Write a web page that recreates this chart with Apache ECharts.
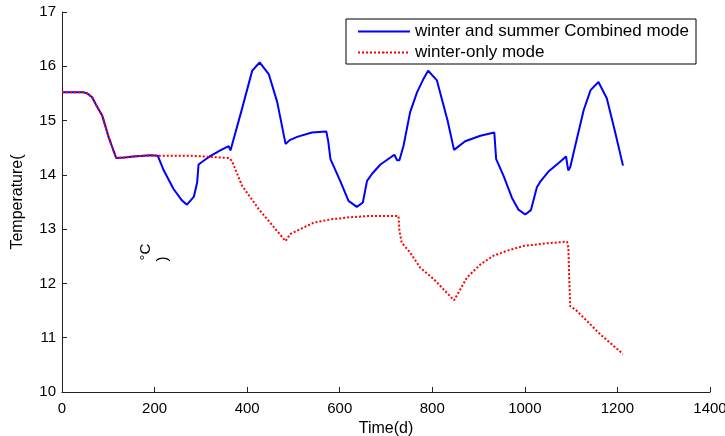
<!DOCTYPE html>
<html>
<head>
<meta charset="utf-8">
<script src="https://cdn.jsdelivr.net/npm/echarts@6/dist/echarts.min.js"></script>
<style>
html, body { margin: 0; padding: 0; background: #fff; }
#chart { width: 725px; height: 436px; }
</style>
</head>
<body>
<div id="chart"></div>
<script>
// combined mode (winter and summer)
var combinedTime = [0, 47, 55, 65, 75, 87, 101, 117, 135, 155, 191, 207,
	220, 241, 259, 270, 285, 292, 295, 306, 321, 342, 360, 364, 368, 389, 411, 427, 447, 465,
	483, 492, 508, 540, 571, 575, 580, 601, 619, 637, 650, 659, 670, 688, 718, 724, 729,
	738, 752, 767, 780, 791, 810, 833, 847, 871, 904, 934, 938, 954, 972, 986, 1001, 1013,
	1026, 1033, 1051, 1073, 1089, 1092, 1094, 1098, 1109, 1127, 1142, 1159, 1177, 1195, 1212];
var combinedTemp = [15.52, 15.52, 15.5, 15.43, 15.27, 15.09, 14.69, 14.31, 14.32, 14.34, 14.36, 14.35,
	14.08, 13.74, 13.53, 13.45, 13.6, 13.86, 14.19, 14.26, 14.35, 14.45, 14.53, 14.45, 14.47, 15.22, 15.92, 16.07, 15.85, 15.34,
	14.57, 14.64, 14.7, 14.78, 14.8, 14.63, 14.29, 13.89, 13.52, 13.41, 13.49, 13.89, 14.02, 14.19, 14.37, 14.27, 14.27,
	14.54, 15.15, 15.52, 15.75, 15.92, 15.74, 15.0, 14.46, 14.62, 14.72, 14.78, 14.29, 13.98, 13.58, 13.36, 13.27, 13.35,
	13.77, 13.87, 14.06, 14.22, 14.34, 14.17, 14.08, 14.14, 14.54, 15.19, 15.56, 15.71, 15.41, 14.79, 14.17];

// winter-only mode
var winterTime = [0, 47, 55, 65, 75, 87, 101, 117, 135, 155, 191, 207,
	285, 360, 367, 389, 425, 483, 493, 544, 580, 623, 659, 727, 729, 734, 752, 774, 803,
	847, 875, 904, 932, 961, 997, 1048, 1091, 1094, 1096, 1098, 1109, 1134, 1163, 1212];
var winterTemp = [15.52, 15.52, 15.5, 15.43, 15.27, 15.09, 14.69, 14.31, 14.32, 14.34, 14.36, 14.35,
	14.35, 14.31, 14.26, 13.8, 13.37, 12.78, 12.91, 13.12, 13.18, 13.22, 13.24, 13.24, 12.97, 12.75, 12.57, 12.29, 12.08,
	11.69, 12.11, 12.35, 12.51, 12.6, 12.69, 12.74, 12.77, 12.66, 12.05, 11.58, 11.52, 11.31, 11.06, 10.7];

var seriesNames = ['winter and summer Combined mode', 'winter-only mode'];

function pairs(xs, ys) {
	var out = [];
	for (var i = 0; i < xs.length; i++) {
		out.push([xs[i], ys[i]]);
	}
	return out;
}

var chart = echarts.init(document.getElementById('chart'));
var font = 'Liberation Sans, Arial, sans-serif';

var option = {
	animation : false,
	grid : {
		left : 62,
		right : 15,
		top : 12,
		bottom : 44,
		containLabel : false,
		outerBoundsMode : 'none'
	},
	legend : {
		orient : 'vertical',
		left : 346,
		top : 19,
		padding : [4, 7, 3, 11],
		itemGap : 4,
		itemWidth : 52,
		itemHeight : 2,
		borderColor : '#000',
		borderWidth : 1,
		backgroundColor : '#fff',
		textStyle : {
			fontFamily : font,
			fontSize : 17,
			color : '#000'
		},
		data : seriesNames
	},
	xAxis : {
		type : 'value',
		min : 0,
		max : 1400,
		interval : 200,
		name : 'Time(d)',
		nameLocation : 'middle',
		nameGap : 25,
		nameTextStyle : { fontFamily : font, fontSize : 16, color : '#000' },
		axisLine : { lineStyle : { color : '#222', width : 1 } },
		axisTick : { inside : true, length : 5, lineStyle : { color : '#222' } },
		axisLabel : {
			fontFamily : font, fontSize : 15, color : '#000', margin : 9,
			formatter : function (v) { return String(v); }
		},
		splitLine : { show : false }
	},
	yAxis : {
		type : 'value',
		min : 10,
		max : 17,
		interval : 1,
		name : 'Temperature(',
		nameLocation : 'middle',
		nameGap : 36,
		nameTextStyle : { fontFamily : font, fontSize : 16, color : '#000' },
		axisLine : { show : true, lineStyle : { color : '#222', width : 1 } },
		axisTick : { show : true, inside : true, length : 5, lineStyle : { color : '#222' } },
		axisLabel : { fontFamily : font, fontSize : 15, color : '#000', margin : 6 },
		splitLine : { show : false }
	},
	graphic : [
		{
			type : 'text',
			x : 146,
			y : 252,
			rotation : Math.PI / 2,
			style : { text : '°C', fontFamily : font, fontSize : 15, fill : '#000', align : 'center', verticalAlign : 'middle' }
		},
		{
			type : 'text',
			x : 163,
			y : 259,
			rotation : Math.PI / 2,
			style : { text : ')', fontFamily : font, fontSize : 15, fill : '#000', align : 'center', verticalAlign : 'middle' }
		}
	],
	series : [
		{
			name : seriesNames[0],
			type : 'line',
			showSymbol : false,
			symbol : 'none',
			data : pairs(combinedTime, combinedTemp),
			lineStyle : { color : '#0000ff', width : 2 },
			itemStyle : { color : '#0000ff' }
		},
		{
			name : seriesNames[1],
			type : 'line',
			showSymbol : false,
			symbol : 'none',
			data : pairs(winterTime, winterTemp),
			lineStyle : { color : '#ff0000', width : 2, type : [2, 2] },
			itemStyle : { color : '#ff0000' }
		}
	]
};
chart.setOption(option);
</script>
</body>
</html>
